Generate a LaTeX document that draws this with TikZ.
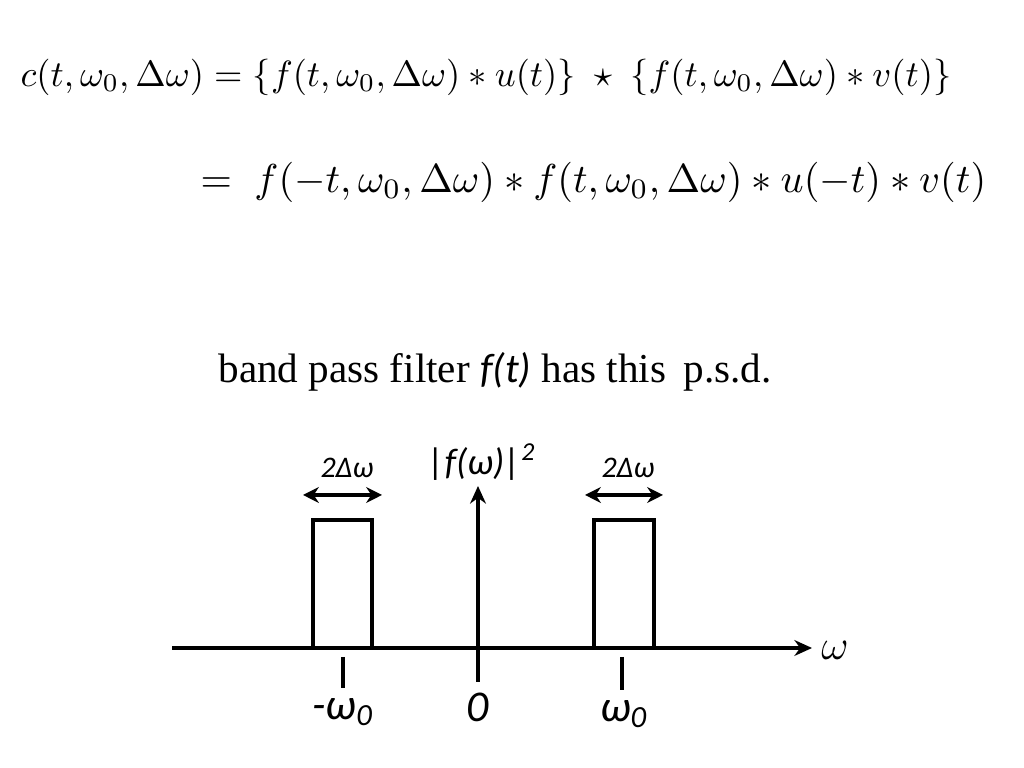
\documentclass[tikz,border=0pt]{standalone}
\usepackage{amsmath}
\usepackage{fontspec}
\setmainfont{Liberation Serif}
\setsansfont{Carlito}
\usetikzlibrary{positioning}
\usetikzlibrary{arrows.meta}

\begin{document}
\begin{tikzpicture}[x=0.01cm,y=-0.01cm, every node/.style={inner sep=0pt}]
\useasboundingbox (0,0) rectangle (1024,768);
\tikzset{axisline/.style={line width=0.9pt, -{Stealth[length=5pt,width=4.5pt]}},
         bandbox/.style={line width=0.9pt},
         widtharrow/.style={line width=0.9pt, {Stealth[length=4.5pt,width=4.5pt]}-{Stealth[length=4.5pt,width=4.5pt]}},
         lbl/.style={font=\sffamily\itshape\fontsize{10.5}{12}\selectfont}}

% equations
\node[anchor=west] (eqa) at (20,77) {\resizebox{9.3cm}{!}{$c(t,\omega_0,\Delta\omega) = \{f(t,\omega_0,\Delta\omega)*u(t)\}\;\star\;\{f(t,\omega_0,\Delta\omega)*v(t)\}$}};
\node[anchor=west] (eqb) at (200,182) {\resizebox{7.85cm}{!}{$=\; f(-t,\omega_0,\Delta\omega)*f(t,\omega_0,\Delta\omega)*u(-t)*v(t)$}};
\node (title) at (495,372) {\fontsize{11.7}{14}\selectfont band pass filter \textsf{\textit{f(t)}} has this\, p.s.d.};

% axes
\coordinate (xs) at (172,648);
\coordinate (xe) at (812,648);
\coordinate (ys) at (478,682);
\coordinate (ye) at (478,486);
\draw[axisline] (xs) -- (xe);
\draw[axisline] (ys) -- (ye);
\node (wlab) at (835,650) {\fontsize{12}{14}\selectfont$\omega$};
\node[lbl] (plab) at (482,462) {|f(ω)|\textsuperscript{2}};

% bands
\draw[bandbox] (313,648) -- (313,520) -- (372,520) -- (372,648);
\draw[bandbox] (594,648) -- (594,520) -- (654,520) -- (654,648);
\coordinate (la) at (303,495); \coordinate (lb) at (382,495);
\coordinate (ra) at (585,495); \coordinate (rb) at (663,495);
\draw[widtharrow] (la) -- (lb);
\draw[widtharrow] (ra) -- (rb);
\node[lbl] (wl) at (347,468) {\fontsize{8.5}{10}\selectfont 2Δω};
\node[lbl] (wr) at (628,468) {\fontsize{8.5}{10}\selectfont 2Δω};

% ticks
\draw[line width=0.9pt] (343,657) -- (343,688);
\draw[line width=0.9pt] (622,657) -- (622,690);
\node[lbl] (tl) at (343,712) {\fontsize{12.5}{14}\selectfont -ω\textsubscript{0}};
\node[lbl] (tz) at (478,707) {\fontsize{12.5}{14}\selectfont 0};
\node[lbl] (tr) at (624,714) {\fontsize{12.5}{14}\selectfont ω\textsubscript{0}};
\end{tikzpicture}
\end{document}
